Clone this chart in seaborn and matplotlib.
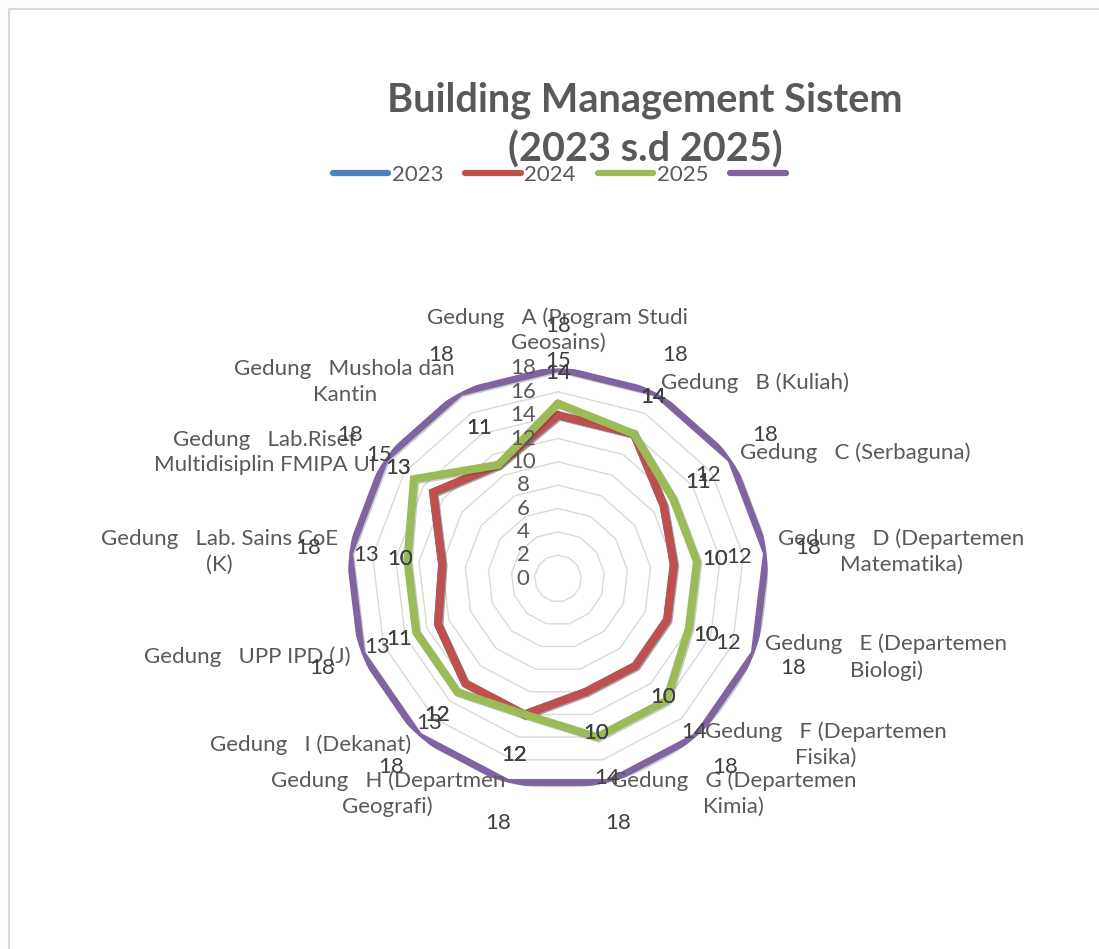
import numpy as np
import pandas as pd
import seaborn as sns
import matplotlib.pyplot as plt
import matplotlib.patheffects as pe
from matplotlib.lines import Line2D
from matplotlib.patches import Rectangle

# categories (clockwise from the top)
buildings = [
    "Gedung   A (Program Studi\nGeosains)",
    "Gedung   B (Kuliah)",
    "Gedung   C (Serbaguna)",
    "Gedung   D (Departemen\nMatematika)",
    "Gedung   E (Departemen\nBiologi)",
    "Gedung   F (Departemen\nFisika)",
    "Gedung   G (Departemen\nKimia)",
    "Gedung   H (Departmen\nGeografi)",
    "Gedung   I (Dekanat)",
    "Gedung   UPP IPD (J)",
    "Gedung   Lab. Sains CoE\n(K)",
    "Gedung   Lab.Riset\nMultidisiplin FMIPA UI",
    "Gedung   Mushola dan\nKantin",
]
val_2023 = [14, 14, 11, 10, 10, 10, 10, 12, 12, 11, 10, 13, 11]
val_2024 = [14, 14, 11, 10, 10, 10, 10, 12, 12, 11, 10, 13, 11]
val_2025 = [15, 14, 12, 12, 12, 14, 14, 12, 13, 13, 13, 15, 11]
val_max = [18, 18, 18, 18, 18, 18, 18, 18, 18, 18, 18, 18, 18]
ring_levels = [0, 2, 4, 6, 8, 10, 12, 14, 16, 18]

series_names = ["2023", "2024", "2025", ""]
series_values = [val_2023, val_2024, val_2025, val_max]
series_colors = ["#4F81BD", "#C0504D", "#9BBB59", "#8064A2"]
series_widths = [5.8, 5.8, 5.8, 5.0]

sns.set_theme(style="white")
plt.rcParams['font.family'] = ['Lato', 'DejaVu Sans']

n = len(buildings)
angles = np.linspace(0, 2 * np.pi, n, endpoint=False)
closed = np.append(angles, 2 * np.pi)

fig = plt.figure(figsize=(10.99, 9.49), dpi=100)
ax = fig.add_axes([0.3166, 0.1691, 0.3822, 0.4426], projection='polar')
ax.set_theta_zero_location('N')
ax.set_theta_direction(-1)
ax.set_facecolor('none')

# polygon gridlines
for lvl in ring_levels[1:]:
    ax.plot(closed, [lvl] * (n + 1), color='#D9D9D9', lw=1.0, zorder=1)

for name, vals, col, lw in zip(series_names, series_values, series_colors, series_widths):
    df = pd.DataFrame({'angle': closed, 'value': vals + vals[:1]})
    sns.lineplot(data=df, x='angle', y='value', sort=False, estimator=None,
                 color=col, lw=lw, ax=ax, legend=False, zorder=3)
    line = ax.lines[-1]
    line.set_solid_joinstyle('miter')
    line.set_path_effects([pe.SimpleLineShadow(offset=(1.0, -1.0), alpha=0.22), pe.Normal()])

ax.set_ylim(0, 18)
ax.grid(False)
ax.set_xticks([])
ax.set_yticks([])
ax.set_xlabel('')
ax.set_ylabel('')
ax.spines['polar'].set_visible(False)

# radial axis labels
for lvl in ring_levels:
    ax.annotate(str(lvl), xy=(0, lvl), xytext=(-25, 0), textcoords='offset points',
                ha='center', va='center', fontsize=16, color='#595959',
                annotation_clip=False)

# data labels
for vals in series_values:
    for a, v in zip(angles, vals):
        ax.text(a, v + 3.6, str(v), ha='center', va='center', fontsize=16,
                color='#404040', clip_on=False, zorder=5)

# category labels
for a, lab in zip(angles, buildings):
    x = np.sin(a)
    if abs(x) < 0.1:
        ha = 'center'
    elif x > 0:
        ha = 'left'
    else:
        ha = 'right'
    if np.cos(a) > 0.95:
        ax.text(a, 19.3, lab, ha=ha, va='bottom', multialignment='center',
                fontsize=16, color='#595959', clip_on=False, linespacing=1.35)
    else:
        ax.text(a, 19, lab, ha=ha, va='center', multialignment='center',
                fontsize=16, color='#595959', clip_on=False, linespacing=1.35)

fig.text(645 / 1099, 1 - 125 / 949, "Building Management Sistem\n(2023 s.d 2025)",
         ha='center', va='center', fontsize=28.5, weight='bold', color='#595959',
         linespacing=1.37)

handles = [Line2D([0], [0], color=c, lw=4.5, solid_capstyle='round') for c in series_colors]
fig.legend(handles, series_names, loc='center', bbox_to_anchor=(561 / 1099, 1 - 175 / 949),
           ncol=4, frameon=False, fontsize=16, handlelength=2.5, handletextpad=0.15,
           columnspacing=1.0, labelcolor='#595959')

fig.add_artist(Rectangle((8.5 / 1099, -0.1), 1.2, 1.1 - 8.5 / 949, transform=fig.transFigure,
                         fill=False, ec='#D9D9D9', lw=1.5))

fig.savefig('out.png', dpi=100)
